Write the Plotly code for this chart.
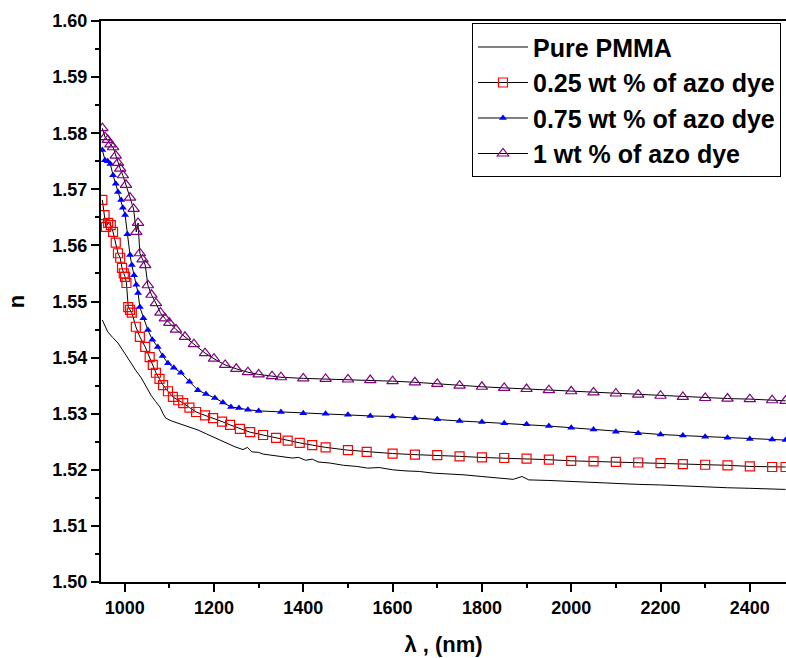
import plotly.graph_objects as go

# ---- data ----
pure_x = [950, 956, 962, 973, 985, 1000, 1014, 1025, 1037, 1048, 1059, 1069, 1079, 1086, 1092, 1105, 1119, 1140,
          1164, 1183, 1202, 1225, 1247, 1265, 1275, 1285, 1300, 1310, 1330, 1350, 1375, 1390, 1405, 1420, 1433,
          1460, 1490, 1520, 1544, 1570, 1600, 1630, 1660, 1692, 1720, 1760, 1800, 1835, 1870, 1890, 1905, 1950,
          2000, 2050, 2100, 2150, 2200, 2250, 2300, 2350, 2400, 2450, 2480]
pure_n = [1.5467, 1.5455, 1.5446, 1.5436, 1.5426, 1.5408, 1.5390, 1.5377, 1.5364, 1.5348, 1.5333, 1.5322, 1.5312,
          1.5300, 1.5292, 1.5287, 1.5283, 1.5277, 1.5271, 1.5264, 1.5257, 1.5249, 1.5241, 1.5236, 1.5240, 1.5232,
          1.5231, 1.5228, 1.5226, 1.5224, 1.5221, 1.5222, 1.5217, 1.5219, 1.5214, 1.5212, 1.5208, 1.5206, 1.5203,
          1.5204, 1.5200, 1.5198, 1.5197, 1.5194, 1.5193, 1.5191, 1.5188, 1.5185, 1.5183, 1.5188, 1.5182, 1.5181,
          1.5179, 1.5178, 1.5176, 1.5174, 1.5173, 1.5171, 1.5170, 1.5168, 1.5167, 1.5165, 1.5165]

w025_x = [950, 955, 958, 963, 969, 974, 980, 985, 990, 994, 998, 1001, 1004, 1008, 1012, 1016, 1025, 1034, 1046,
          1056, 1063, 1070, 1078, 1086, 1097, 1108, 1120, 1131, 1145, 1160, 1180, 1198, 1218, 1236, 1258, 1281,
          1310, 1339, 1365, 1392, 1420, 1450, 1500, 1542, 1600, 1650, 1700, 1750, 1800, 1850, 1900, 1950, 2000,
          2050, 2100, 2150, 2200, 2250, 2300, 2350, 2400, 2450, 2480]
w025_n = [1.5681, 1.5654, 1.5633, 1.5640, 1.5636, 1.5624, 1.5605, 1.5586, 1.5578, 1.5560, 1.5550, 1.5544, 1.5533,
          1.5490, 1.5485, 1.5480, 1.5455, 1.5437, 1.5419, 1.5401, 1.5387, 1.5373, 1.5362, 1.5351, 1.5340, 1.5330,
          1.5324, 1.5319, 1.5311, 1.5303, 1.5297, 1.5292, 1.5286, 1.5280, 1.5273, 1.5267, 1.5262, 1.5257, 1.5252,
          1.5248, 1.5244, 1.5240, 1.5235, 1.5232, 1.5229, 1.5227, 1.5226, 1.5224, 1.5222, 1.5221, 1.5220, 1.5218,
          1.5216, 1.5215, 1.5214, 1.5213, 1.5212, 1.5210, 1.5209, 1.5208, 1.5206, 1.5205, 1.5205]

w075_x = [950, 956, 962, 968, 974, 980, 985, 992, 996, 1001, 1006, 1012, 1016, 1021, 1026, 1030, 1034, 1042, 1052,
          1062, 1074, 1085, 1097, 1110, 1126, 1145, 1164, 1182, 1202, 1220, 1238, 1256, 1276, 1300, 1350, 1400,
          1450, 1500, 1550, 1600, 1650, 1700, 1750, 1800, 1850, 1900, 1950, 2000, 2050, 2100, 2150, 2200, 2250,
          2300, 2350, 2400, 2450, 2480]
w075_n = [1.5770, 1.5752, 1.5750, 1.5745, 1.5725, 1.5710, 1.5695, 1.5681, 1.5667, 1.5654, 1.5620, 1.5583, 1.5565,
          1.5547, 1.5530, 1.5515, 1.5490, 1.5470, 1.5449, 1.5432, 1.5419, 1.5403, 1.5390, 1.5382, 1.5373, 1.5357,
          1.5342, 1.5335, 1.5328, 1.5320, 1.5312, 1.5310, 1.5307, 1.5305, 1.5303, 1.5301, 1.5300, 1.5298, 1.5296,
          1.5295, 1.5292, 1.5290, 1.5287, 1.5285, 1.5283, 1.5281, 1.5278, 1.5275, 1.5272, 1.5268, 1.5265, 1.5263,
          1.5261, 1.5259, 1.5257, 1.5255, 1.5254, 1.5253]

w1_x = [950, 956, 962, 968, 974, 980, 985, 990, 996, 1003, 1012, 1020, 1026, 1030, 1034, 1040, 1046, 1052, 1060,
        1070, 1080, 1090, 1100, 1115, 1135, 1155, 1180, 1200, 1225, 1250, 1276, 1300, 1330, 1350, 1400, 1450,
        1500, 1550, 1600, 1650, 1700, 1750, 1800, 1850, 1900, 1950, 2000, 2050, 2100, 2150, 2200, 2250, 2300,
        2350, 2400, 2450, 2480]
w1_n = [1.5809, 1.5793, 1.5788, 1.5780, 1.5775, 1.5760, 1.5747, 1.5737, 1.5725, 1.5708, 1.5685, 1.5665, 1.5624,
        1.5640, 1.5586, 1.5575, 1.5565, 1.5529, 1.5512, 1.5497, 1.5480, 1.5470, 1.5462, 1.5450, 1.5437, 1.5424,
        1.5408, 1.5398, 1.5387, 1.5380, 1.5374, 1.5370, 1.5367, 1.5365, 1.5363, 1.5362, 1.5361, 1.5360, 1.5358,
        1.5356, 1.5353, 1.5350, 1.5348, 1.5346, 1.5344, 1.5342, 1.5340, 1.5338, 1.5336, 1.5334, 1.5332, 1.5330,
        1.5328, 1.5327, 1.5326, 1.5324, 1.5323]

series_names = ["Pure PMMA", "0.25 wt % of azo dye", "0.75 wt % of azo dye", "1 wt % of azo dye"]
x_ticks = [1000, 1200, 1400, 1600, 1800, 2000, 2200, 2400]
y_ticks = [1.50, 1.51, 1.52, 1.53, 1.54, 1.55, 1.56, 1.57, 1.58, 1.59, 1.60]

FONT = "Liberation Sans, Arial, sans-serif"

fig = go.Figure()
fig.add_trace(go.Scatter(x=pure_x, y=pure_n, mode="lines", name=series_names[0],
                         line=dict(color="black", width=1)))
fig.add_trace(go.Scatter(x=w025_x, y=w025_n, mode="lines+markers", name=series_names[1],
                         line=dict(color="black", width=1),
                         marker=dict(symbol="square-open", size=9, color="#FF0000", line=dict(width=1.2))))
fig.add_trace(go.Scatter(x=w075_x, y=w075_n, mode="lines+markers", name=series_names[2],
                         line=dict(color="black", width=1),
                         marker=dict(symbol="triangle-up", size=7, color="#0000FF")))
fig.add_trace(go.Scatter(x=w1_x, y=w1_n, mode="lines+markers", name=series_names[3],
                         line=dict(color="black", width=1),
                         marker=dict(symbol="triangle-up-open", size=10, color="#800080", line=dict(width=1.2))))

fig.update_layout(
    width=786, height=658,
    margin=dict(l=101, r=0, t=21, b=76),
    paper_bgcolor="white", plot_bgcolor="white",
    font=dict(family=FONT, color="black"),
    showlegend=True,
    legend=dict(x=0.5416, y=0.996, xanchor="left", yanchor="top",
                bordercolor="black", borderwidth=1, bgcolor="white",
                font=dict(family=FONT, size=25, weight="bold", color="black"),
                tracegroupgap=0, itemwidth=50),
)
fig.update_xaxes(
    range=[947, 2481], tickvals=x_ticks, ticktext=[str(v) for v in x_ticks],
    showline=True, linecolor="black", linewidth=2, mirror=True,
    ticks="outside", ticklen=8, tickwidth=2, tickcolor="black",
    minor=dict(dtick=100, tick0=1000, ticks="outside", ticklen=4, tickwidth=2, tickcolor="black"),
    showgrid=False, zeroline=False,
    tickfont=dict(family=FONT, size=18, weight="bold"),
    title=dict(text="λ , (nm)", font=dict(family=FONT, size=22, weight="bold"), standoff=20),
)
fig.update_yaxes(
    range=[1.50, 1.60], tickvals=y_ticks, ticktext=[f"{v:.2f}" for v in y_ticks],
    showline=True, linecolor="black", linewidth=2, mirror=False,
    ticks="outside", ticklen=8, tickwidth=2, tickcolor="black",
    minor=dict(dtick=0.005, tick0=1.50, ticks="outside", ticklen=4, tickwidth=2, tickcolor="black"),
    showgrid=False, zeroline=False,
    tickfont=dict(family=FONT, size=18, weight="bold"),
    title=dict(text="n", font=dict(family=FONT, size=22, weight="bold"), standoff=22),
)

fig.write_html("out.html")
